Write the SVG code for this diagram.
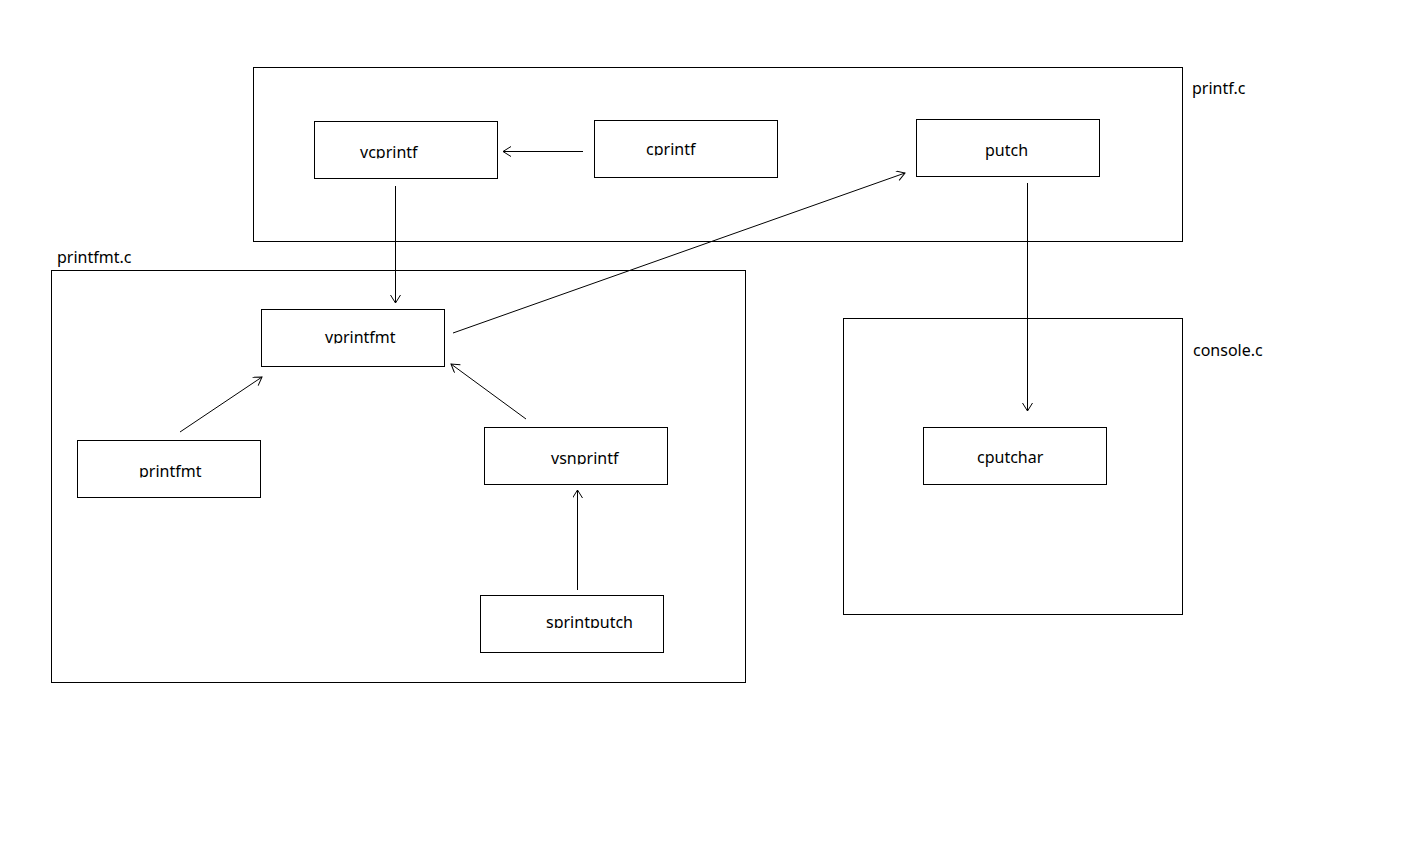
<svg xmlns="http://www.w3.org/2000/svg" width="1413" height="852" viewBox="0 0 1413 852">
<style>
.box{fill:none;stroke:#000;stroke-width:1}
.lbl{font-family:"Noto Sans","Open Sans",sans-serif;font-size:16px;fill:#000}
.cn{stroke:#000;stroke-width:1;fill:none;marker-end:url(#arr)}
</style>
<defs>
<marker id="arr" markerUnits="userSpaceOnUse" markerWidth="12" markerHeight="12" refX="9" refY="5" orient="auto">
<path d="M1,0 L9,5 L1,10" fill="none" stroke="#000" stroke-width="1"/>
</marker>
<clipPath id="c1"><rect x="300" y="130" width="200" height="28.5"/></clipPath>
<clipPath id="c2"><rect x="590" y="130" width="200" height="25.5"/></clipPath>
<clipPath id="c3"><rect x="260" y="315" width="200" height="28.5"/></clipPath>
<clipPath id="c4"><rect x="70" y="450" width="200" height="27.5"/></clipPath>
<clipPath id="c5"><rect x="480" y="435" width="200" height="29.5"/></clipPath>
<clipPath id="c6"><rect x="480" y="600" width="200" height="28"/></clipPath>
</defs>
<rect width="1413" height="852" fill="#fff"/>
<g id="printf_c">
<rect class="box" x="253.5" y="67.5" width="929" height="174"/>
<text class="lbl" x="1192" y="94">printf.c</text>
</g>
<g id="printfmt_c">
<rect class="box" x="51.5" y="270.5" width="694" height="412"/>
<text class="lbl" x="57" y="263">printfmt.c</text>
</g>
<g id="console_c">
<rect class="box" x="843.5" y="318.5" width="339" height="296"/>
<text class="lbl" x="1193" y="356">console.c</text>
</g>
<g id="vcprintf">
<rect class="box" x="314.5" y="121.5" width="183" height="57"/>
<text class="lbl" x="360" y="158" clip-path="url(#c1)">vcprintf</text>
</g>
<g id="cprintf">
<rect class="box" x="594.5" y="120.5" width="183" height="57"/>
<text class="lbl" x="646" y="155" clip-path="url(#c2)">cprintf</text>
</g>
<g id="putch">
<rect class="box" x="916.5" y="119.5" width="183" height="57"/>
<text class="lbl" x="985" y="156">putch</text>
</g>
<g id="vprintfmt">
<rect class="box" x="261.5" y="309.5" width="183" height="57"/>
<text class="lbl" x="325" y="343" clip-path="url(#c3)">vprintfmt</text>
</g>
<g id="printfmt">
<rect class="box" x="77.5" y="440.5" width="183" height="57"/>
<text class="lbl" x="139" y="477" clip-path="url(#c4)">printfmt</text>
</g>
<g id="vsnprintf">
<rect class="box" x="484.5" y="427.5" width="183" height="57"/>
<text class="lbl" x="551" y="464" clip-path="url(#c5)">vsnprintf</text>
</g>
<g id="sprintputch">
<rect class="box" x="480.5" y="595.5" width="183" height="57"/>
<text class="lbl" x="546" y="627.5" clip-path="url(#c6)">sprintputch</text>
</g>
<g id="cputchar">
<rect class="box" x="923.5" y="427.5" width="183" height="57"/>
<text class="lbl" x="977" y="463">cputchar</text>
</g>
<g id="connectors">
<line class="cn" x1="583" y1="151.5" x2="503" y2="151.5"/>
<line class="cn" x1="395.5" y1="186" x2="395.5" y2="303"/>
<line class="cn" x1="453" y1="333" x2="905" y2="173"/>
<line class="cn" x1="180" y1="432" x2="262" y2="377"/>
<line class="cn" x1="526" y1="419" x2="451" y2="364"/>
<line class="cn" x1="577.5" y1="590" x2="577.5" y2="490"/>
<line class="cn" x1="1027.5" y1="183" x2="1027.5" y2="411"/>
</g>
</svg>
